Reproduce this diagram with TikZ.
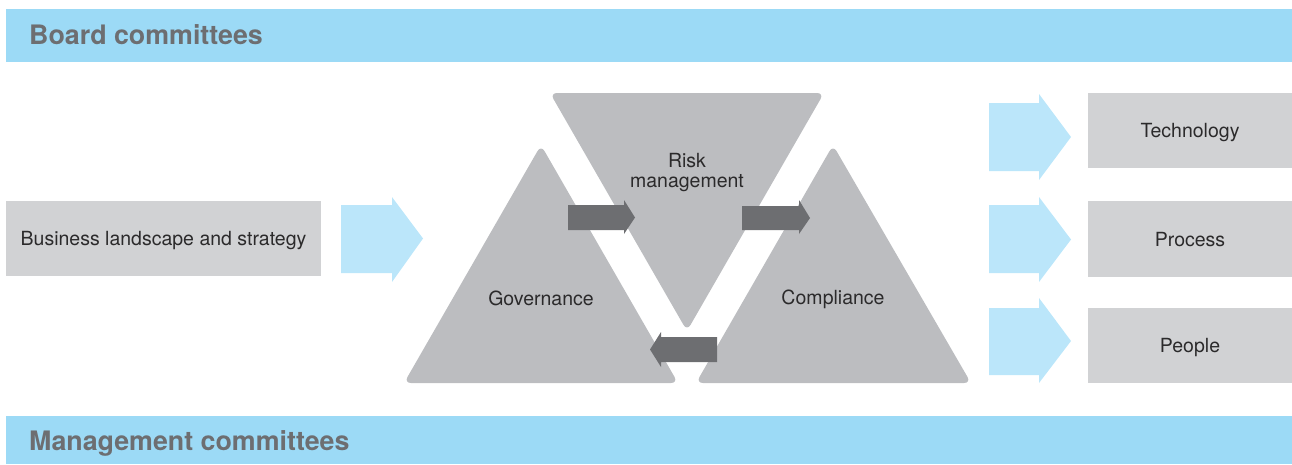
\documentclass[tikz,border=0pt]{standalone}
\usepackage{fontspec}
\setmainfont{TeX Gyre Heros}
\definecolor{barblue}{HTML}{9CDAF6}
\definecolor{paleblue}{HTML}{BBE6FA}
\definecolor{boxgray}{HTML}{D1D2D4}
\definecolor{trigray}{HTML}{BCBDC0}
\definecolor{darkgray}{HTML}{6D6E71}
\definecolor{inkgray}{HTML}{2B2A2B}
\begin{document}
\begin{tikzpicture}[x=1pt,y=-1pt,
  bar/.style={fill=barblue},
  bartext/.style={anchor=west,inner sep=0pt,text=darkgray,text height=19pt,text depth=0pt,
    font=\fontsize{26.8}{30}\selectfont\bfseries},
  graybox/.style={fill=boxgray,inner sep=0pt,text=inkgray,text height=14pt,text depth=0pt,
    font=\fontsize{19.5}{23}\selectfont},
  tri/.style={fill=trigray,rounded corners=7pt},
  label/.style={inner sep=0pt,text=inkgray,align=center,
    font=\fontsize{19.5}{20}\selectfont},
  palearrow/.style={fill=paleblue},
  darkarrow/.style={fill=darkgray}]
\useasboundingbox (0,0) rectangle (1292,464);

% committee bars
\fill[bar] (6,9) rectangle (1292,62);
\node[bartext] (board) at (29,35) {Board committees};
\fill[bar] (6,416) rectangle (1292,464);
\node[bartext] (mgmt) at (29,441) {Management committees};

% input box
\node[graybox,minimum width=315pt,minimum height=75pt] (biz) at (163.5,238.5)
  {Business landscape and strategy};

% outcome boxes
\node[graybox,minimum width=204pt,minimum height=75pt] (tech) at (1190,130.5) {Technology};
\node[graybox,minimum width=204pt,minimum height=76pt] (proc) at (1190,239) {Process};
\node[graybox,minimum width=204pt,minimum height=75pt] (ppl) at (1190,345.5) {People};

% three triangles
\fill[tri] (404,383) -- (541,145) -- (678,383) -- cycle;
\fill[tri] (550,93) -- (824,93) -- (687,331) -- cycle;
\fill[tri] (696,383) -- (833,145) -- (971,383) -- cycle;
\node[label] (risk) at (687,173) {Risk\\management};
\node[label] (gov) at (541,298) {Governance};
\node[label] (comp) at (833,299) {Compliance};

% pale block arrows
\fill[palearrow] (341,205) -- (392,205) -- (392,197) -- (423,238.5)
  -- (392,282) -- (392,273) -- (341,273) -- cycle;
\fill[palearrow] (989,103) -- (1039,103) -- (1039,94) -- (1071,137)
  -- (1039,180) -- (1039,171) -- (989,171) -- cycle;
\fill[palearrow] (989,205) -- (1039,205) -- (1039,197) -- (1071,239.5)
  -- (1039,282) -- (1039,273) -- (989,273) -- cycle;
\fill[palearrow] (989,308) -- (1039,308) -- (1039,298) -- (1071,341)
  -- (1039,383) -- (1039,375) -- (989,375) -- cycle;

% dark block arrows between the triangles
\fill[darkarrow] (568,205) -- (624,205) -- (624,200) -- (635,217.5)
  -- (624,234) -- (624,230) -- (568,230) -- cycle;
\fill[darkarrow] (742,206) -- (799,206) -- (799,200) -- (810,218)
  -- (799,234) -- (799,230) -- (742,230) -- cycle;
\fill[darkarrow] (717,337) -- (661,337) -- (661,332) -- (650,349.5)
  -- (661,367) -- (661,362) -- (717,362) -- cycle;
\end{tikzpicture}
\end{document}
